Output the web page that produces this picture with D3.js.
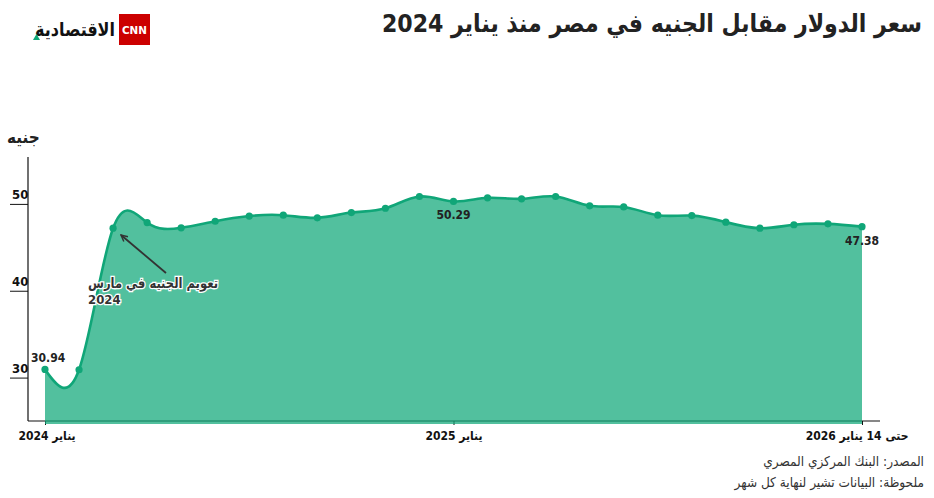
<!DOCTYPE html>
<html><head><meta charset="utf-8">
<script src="https://cdn.jsdelivr.net/npm/d3@7"></script>
<style>
html,body{margin:0;padding:0;background:#fff;}
svg{display:block;}
text{font-family:"DejaVu Sans Condensed","DejaVu Sans",sans-serif;}
</style></head>
<body>
<svg id="c" width="934" height="498"></svg>
<script>
const monthIndex = d3.range(0, 25);
const rateValues = [30.94, 30.90, 47.20, 47.85, 47.25, 48.00, 48.60, 48.70, 48.40, 49.00, 49.50, 50.85,
  50.29, 50.70, 50.58, 50.85, 49.78, 49.65, 48.70, 48.65, 47.90, 47.20, 47.60, 47.70, 47.38];
const yTicks = [30, 40, 50];
const xTickValues = [0, 12, 24];
const xTickLabels = ["يناير 2024", "يناير 2025", "حتى 14 يناير 2026"];
const labelled = [{i: 0, text: "30.94"}, {i: 12, text: "50.29"}, {i: 24, text: "47.38"}];

const svg = d3.select("#c");
const x = d3.scaleLinear().domain([0, 24]).range([45, 862]);
const y = d3.scaleLinear().domain([25, 55.4]).range([421, 157]);

// title
svg.append("text").attr("x", 922).attr("y", 32).attr("text-anchor", "end")
  .attr("font-size", 25).attr("font-weight", "bold").attr("fill", "#222")
  .attr("textLength", 540).attr("lengthAdjust", "spacingAndGlyphs")
  .text("سعر الدولار مقابل الجنيه في مصر منذ يناير 2024");

// logo
svg.append("rect").attr("x", 119).attr("y", 14).attr("width", 31).attr("height", 31).attr("fill", "#cc0000");
svg.append("text").attr("x", 134.5).attr("y", 34).attr("text-anchor", "middle").attr("font-size", 11)
  .attr("font-weight", "bold").attr("fill", "#fff").attr("textLength", 25).attr("lengthAdjust", "spacingAndGlyphs").text("CNN");
svg.append("text").attr("x", 115).attr("y", 36).attr("text-anchor", "end").attr("font-size", 19)
  .attr("font-weight", "bold").attr("fill", "#111").attr("textLength", 80).attr("lengthAdjust", "spacingAndGlyphs").text("الاقتصادية");
svg.append("path").attr("d", "M33,40 L36.5,34 L40,40 Z").attr("fill", "#0fa878");

// unit label
svg.append("text").attr("x", 7).attr("y", 143).attr("font-size", 17).attr("font-weight", "bold")
  .attr("fill", "#222").text("جنيه");

// x axis
const xAxis = d3.axisBottom(x).tickValues(xTickValues).tickSize(4)
  .tickFormat((d, i) => xTickLabels[i]);
const gx = svg.append("g").attr("transform", "translate(0,421)").call(xAxis);
gx.select(".domain").remove();
gx.selectAll(".tick line").attr("stroke", "#111");
gx.selectAll(".tick text").attr("font-size", 12).attr("font-weight", "bold").attr("fill", "#111")
  .attr("font-family", "'DejaVu Sans Condensed','DejaVu Sans',sans-serif").attr("dy", "1.0em");
gx.selectAll(".tick text").filter((d, i) => i === 0).attr("text-anchor", "start").attr("dx", -27);
gx.selectAll(".tick text").filter((d, i) => i === 2).attr("text-anchor", "end").attr("dx", 46);
svg.append("line").attr("x1", 28).attr("x2", 880).attr("y1", 421).attr("y2", 421).attr("stroke", "#111").attr("stroke-width", 1.2);

// y axis
const yAxis = d3.axisLeft(y).tickValues(yTicks).tickSize(18).tickFormat(d3.format("d"));
const gy = svg.append("g").attr("transform", "translate(28,0)").call(yAxis);
gy.select(".domain").remove();
gy.selectAll(".tick line").attr("stroke", "#111");
gy.selectAll(".tick text").attr("x", -16).attr("dy", -5).attr("text-anchor", "start")
  .attr("font-size", 13).attr("font-weight", "bold").attr("fill", "#111")
  .attr("font-family", "'DejaVu Sans Condensed','DejaVu Sans',sans-serif");
svg.append("line").attr("x1", 28).attr("x2", 28).attr("y1", 157).attr("y2", 421).attr("stroke", "#111").attr("stroke-width", 1.2);

// area + line
const curve = d3.curveNatural;
const area = d3.area().x((d, i) => x(monthIndex[i])).y0(424).y1(d => y(d)).curve(curve);
const line = d3.line().x((d, i) => x(monthIndex[i])).y(d => y(d)).curve(curve);
svg.append("path").datum(rateValues).attr("d", area).attr("fill", "#0fa878").attr("fill-opacity", 0.72);
svg.append("path").datum(rateValues).attr("d", line).attr("fill", "none").attr("stroke", "#10a678").attr("stroke-width", 2.6);
svg.selectAll("circle.pt").data(rateValues).join("circle").attr("class", "pt")
  .attr("cx", (d, i) => x(monthIndex[i])).attr("cy", d => y(d)).attr("r", 3.6).attr("fill", "#10a678");

// value labels
svg.selectAll("text.vl").data(labelled).join("text").attr("class", "vl")
  .attr("x", d => d.i === 0 ? 31 : x(monthIndex[d.i]))
  .attr("y", d => d.i === 0 ? y(rateValues[d.i]) - 7 : y(rateValues[d.i]) + 18)
  .attr("text-anchor", d => d.i === 0 ? "start" : "middle")
  .attr("font-size", 12).attr("font-weight", "bold").attr("fill", "#222").text(d => d.text);

// annotation
svg.append("defs").append("marker").attr("id", "arr").attr("viewBox", "0 0 10 10").attr("refX", 9).attr("refY", 5)
  .attr("markerWidth", 8).attr("markerHeight", 8).attr("markerUnits", "userSpaceOnUse").attr("orient", "auto")
  .append("path").attr("d", "M1,1 L9,5 L1,9").attr("fill", "none").attr("stroke", "#333").attr("stroke-width", 1.8);
svg.append("line").attr("x1", 166).attr("y1", 273).attr("x2", 121).attr("y2", 235)
  .attr("stroke", "#333").attr("stroke-width", 1.8).attr("marker-end", "url(#arr)");
svg.append("text").attr("x", 218).attr("y", 288).attr("text-anchor", "end").attr("font-size", 14)
  .attr("font-weight", "bold").attr("fill", "#333").attr("stroke", "#fff").attr("stroke-width", 2.5).attr("paint-order", "stroke")
  .attr("textLength", 130).attr("lengthAdjust", "spacingAndGlyphs")
  .text("تعويم الجنيه في مارس");
svg.append("text").attr("x", 88).attr("y", 304).attr("font-size", 13)
  .attr("font-weight", "bold").attr("fill", "#333").attr("stroke", "#fff").attr("stroke-width", 2.5).attr("paint-order", "stroke")
  .text("2024");

// footer
svg.append("text").attr("x", 924).attr("y", 466).attr("text-anchor", "end").attr("font-size", 13.5).attr("fill", "#333")
  .text("المصدر: البنك المركزي المصري");
svg.append("text").attr("x", 924).attr("y", 487).attr("text-anchor", "end").attr("font-size", 13.5).attr("fill", "#333")
  .text("ملحوظة: البيانات تشير لنهاية كل شهر");
</script>
</body></html>
